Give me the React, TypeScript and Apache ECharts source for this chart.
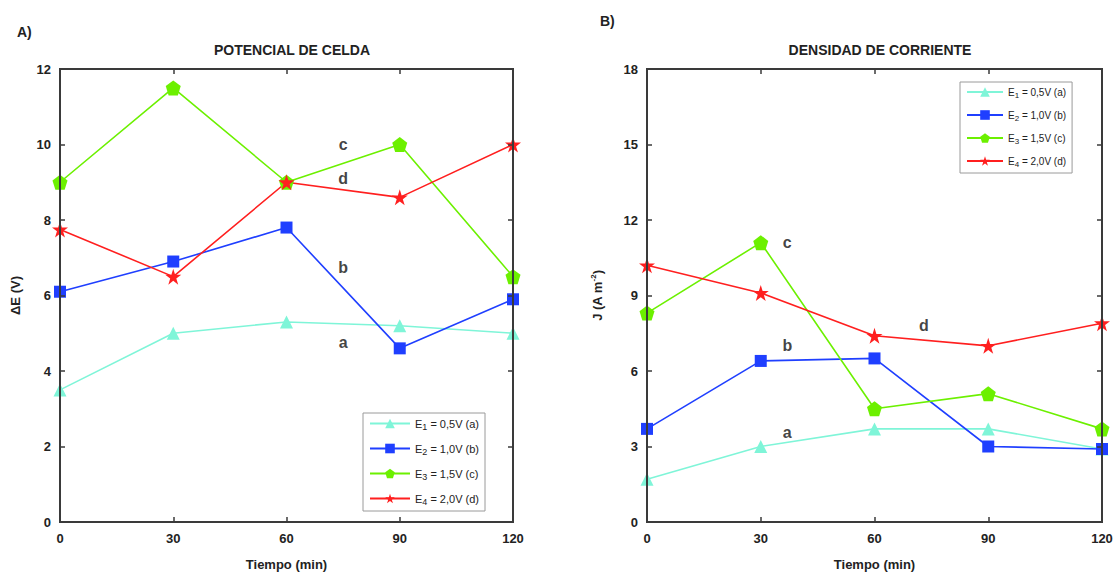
import React, { useEffect, useRef } from "react";
import * as echarts from "echarts";

const times = [0, 30, 60, 90, 120];
const seriesNames = ["E1 = 0,5V (a)", "E2 = 1,0V (b)", "E3 = 1,5V (c)", "E4 = 2,0V (d)"];
const colors = ["#7ff5d8", "#1f3fff", "#6cf000", "#ff1f1f"];

// Panel A: cell potential (V)
const potA = [3.5, 5.0, 5.3, 5.2, 5.0];
const potB = [6.1, 6.9, 7.8, 4.6, 5.9];
const potC = [9.0, 11.5, 9.0, 10.0, 6.5];
const potD = [7.75, 6.5, 9.0, 8.6, 10.0];

// Panel B: current density (A m^-2)
const curA = [1.7, 3.0, 3.7, 3.7, 2.9];
const curB = [3.7, 6.4, 6.5, 3.0, 2.9];
const curC = [8.3, 11.1, 4.5, 5.1, 3.7];
const curD = [10.2, 9.1, 7.4, 7.0, 7.9];

const xTicks = { min: 0, max: 120, interval: 30 };
const yTicksA = { min: 0, max: 12, interval: 2 };
const yTicksB = { min: 0, max: 18, interval: 3 };

const letters = ["a", "b", "c", "d"];
// annotation anchor points, in data coordinates
const labelPosA = [[75, 4.75], [75, 6.75], [75, 10.0], [75, 9.1]];
const labelPosB = [[37, 3.55], [37, 7.0], [37, 11.1], [73, 7.8]];

const PENTAGON = "path://M0,-1 L0.951,-0.309 L0.588,0.809 L-0.588,0.809 L-0.951,-0.309 Z";
const STAR =
  "path://M0,-1 L0.2245,-0.309 L0.951,-0.309 L0.363,0.118 L0.588,0.809 L0,0.382 L-0.588,0.809 L-0.363,0.118 L-0.951,-0.309 L-0.2245,-0.309 Z";
const symbols = ["triangle", "rect", PENTAGON, STAR];
const symbolSizes = [13, 12, 15, 16];

const FONT = "'Liberation Sans', Arial, sans-serif";
const AXIS_COLOR = "#3a3a3a";

function mkLine() {
  return { show: true, onZero: false, lineStyle: { color: AXIS_COLOR, width: 2 } };
}
function mkTick() {
  return { show: true, inside: true, length: 5, lineStyle: { color: AXIS_COLOR, width: 1.5 } };
}

type Range = { min: number; max: number; interval: number };
type Panel = {
  letter: string; letterLeft: number; letterTop: number;
  title: string; titleCenter: number;
  grid: { left: number; top: number; width: number; height: number };
  yr: Range; yName: string; yGap: number;
  data: number[][]; labelPos: number[][];
  legendLeft: number; legendTop: number; legendFont: number; legendGap: number; legendItemWidth: number;
};

function buildOption(p: Panel) {
  const label = { color: "#222", fontFamily: FONT, fontWeight: "bold" as const, fontSize: 13 };
  const titleStyle = { fontFamily: FONT, fontWeight: "bold" as const, fontSize: 14, color: "#222" };
  return {
    animation: false,
    backgroundColor: "transparent",
    title: [
      { text: p.letter, left: p.letterLeft, top: p.letterTop, textStyle: titleStyle },
      { text: p.title, left: p.titleCenter, textAlign: "center", top: 38, textStyle: titleStyle },
    ],
    grid: [{ ...p.grid, z: 10 }],
    xAxis: [
      {
        type: "value", position: "bottom", ...xTicks, z: 10,
        axisLine: mkLine(), axisTick: mkTick(), splitLine: { show: false },
        axisLabel: { ...label, margin: 10 },
        name: "Tiempo (min)", nameLocation: "middle", nameGap: 36,
        nameTextStyle: { ...label },
      },
      {
        type: "value", position: "top", ...xTicks, z: 10,
        axisLine: mkLine(), axisTick: mkTick(), splitLine: { show: false }, axisLabel: { show: false },
      },
    ],
    yAxis: [
      {
        type: "value", position: "left", ...p.yr, z: 10,
        axisLine: mkLine(), axisTick: mkTick(), splitLine: { show: false },
        axisLabel: { ...label, margin: 9 },
        name: p.yName, nameLocation: "middle", nameGap: p.yGap,
        nameTextStyle: {
          ...label,
          rich: { sup: { fontSize: 8, fontWeight: "bold", fontFamily: FONT, color: "#222", padding: [0, 0, 8, 0] } },
        },
      },
      {
        type: "value", position: "right", ...p.yr, z: 10,
        axisLine: mkLine(), axisTick: mkTick(), splitLine: { show: false }, axisLabel: { show: false },
      },
    ],
    legend: {
      show: true,
      orient: "vertical",
      left: p.legendLeft, top: p.legendTop,
      data: seriesNames,
      backgroundColor: "#fff",
      borderColor: "#9a9a9a",
      borderWidth: 1,
      padding: [5, 6, 5, 6],
      itemGap: p.legendGap,
      itemWidth: p.legendItemWidth,
      itemHeight: 12,
      selectedMode: false,
      z: 12,
      formatter: (n: string) => n.replace(/^E(\d)/, "E{sub|$1}"),
      textStyle: {
        fontFamily: FONT, fontSize: p.legendFont, color: "#222",
        rich: { sub: { fontFamily: FONT, fontSize: p.legendFont - 2, color: "#222", padding: [6, 0, 0, 0] } },
      },
    },
    series: [
      ...p.data.map((vals, i) => ({
        name: seriesNames[i],
        type: "line",
        data: times.map((t, j) => [t, vals[j]]),
        symbol: symbols[i],
        symbolSize: symbolSizes[i],
        lineStyle: { color: colors[i], width: 1.6 },
        itemStyle: { color: colors[i] },
      })),
      {
        name: "letters",
        type: "scatter",
        silent: true,
        symbolSize: 0,
        data: p.labelPos.map((pos, i) => ({ value: pos, name: letters[i] })),
        label: {
          show: true, position: "inside", formatter: "{b}",
          color: "#111", fontFamily: FONT, fontWeight: "bold", fontSize: 16,
        },
      },
    ],
  };
}

const panelA: Panel = {
  letter: "A)", letterLeft: 12, letterTop: 20,
  title: "POTENCIAL DE CELDA", titleCenter: 287,
  grid: { left: 60, top: 69, width: 453, height: 453 },
  yr: yTicksA, yName: "ΔE (V)", yGap: 38,
  data: [potA, potB, potC, potD], labelPos: labelPosA,
  legendLeft: 363, legendTop: 413, legendFont: 11, legendGap: 12, legendItemWidth: 40,
};
const panelB: Panel = {
  letter: "B)", letterLeft: 35, letterTop: 9,
  title: "DENSIDAD DE CORRIENTE", titleCenter: 315,
  grid: { left: 87, top: 69, width: 455, height: 453 },
  yr: yTicksB, yName: "J (A m{sup|-2})", yGap: 42,
  data: [curA, curB, curC, curD], labelPos: labelPosB,
  legendLeft: 400, legendTop: 82, legendFont: 10, legendGap: 11, legendItemWidth: 36,
};

const PANEL_A_LEFT = 0;
const PANEL_B_LEFT = 560;

export default function App() {
  const refA = useRef<HTMLDivElement>(null);
  const refB = useRef<HTMLDivElement>(null);
  useEffect(() => {
    document.body.style.margin = "0";
    const ca = echarts.init(refA.current!, undefined, { renderer: "svg" });
    const cb = echarts.init(refB.current!, undefined, { renderer: "svg" });
    ca.setOption(buildOption(panelA));
    cb.setOption(buildOption(panelB));
    return () => {
      ca.dispose();
      cb.dispose();
    };
  }, []);
  const frame = (offset: number, g: Panel["grid"]) => ({
    position: "absolute" as const,
    left: offset + g.left - 1,
    top: g.top - 1,
    width: g.width + 2,
    height: g.height + 2,
    border: `2px solid ${AXIS_COLOR}`,
    boxSizing: "border-box" as const,
    zIndex: 5,
    pointerEvents: "none" as const,
  });
  return (
    <div style={{ position: "relative", width: 1116, height: 581, background: "#fff" }}>
      <div ref={refA} style={{ position: "absolute", left: PANEL_A_LEFT, top: 0, width: 560, height: 581, zIndex: 1 }} />
      <div ref={refB} style={{ position: "absolute", left: PANEL_B_LEFT, top: 0, width: 556, height: 581, zIndex: 1 }} />
      <div style={frame(PANEL_A_LEFT, panelA.grid)} />
      <div style={frame(PANEL_B_LEFT, panelB.grid)} />
    </div>
  );
}
